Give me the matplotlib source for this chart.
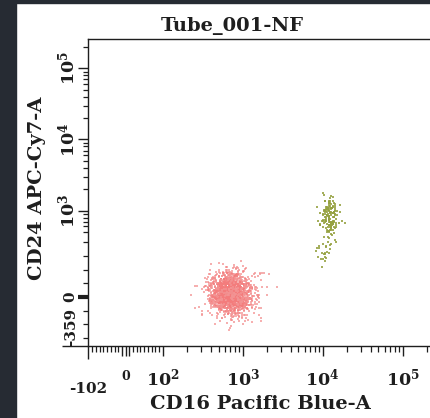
import numpy as np
import matplotlib
matplotlib.use("Agg")
import matplotlib.pyplot as plt
from matplotlib.scale import SymmetricalLogTransform
from matplotlib.patches import Rectangle

plt.rcParams['font.family'] = ['DejaVu Serif']
plt.rcParams['mathtext.fontset'] = 'dejavuserif'
plt.rcParams['mathtext.default'] = 'bf'

W, H = 430, 418                  # output size in px
ink = "#1e1e1e"

# axis ranges (biexponential display)
x_range = [-102, 262143]
y_range = [-359, 262143]
x_lin = (100, 0.416)             # linthresh, linscale
y_lin = (450, 0.778)

# populations: centre in data units, spread in display decades, event count
pop_x = [720, 720, 12500, 10500]
pop_y = [22, 22, 820, 320]
pop_sx = [0.13, 0.18, 0.06, 0.05]
pop_sy = [0.14, 0.19, 0.13, 0.11]
pop_n = [1500, 250, 150, 25]
pop_col = ["#f37c7c", "#f29494", "#95a140", "#95a140"]
pop_alpha = [0.6, 0.75, 0.85, 0.85]

x_major = [-102, -10, 0, 10, 100, 1000, 10000, 100000]
x_labels = ["-102", "0", "$10^{2}$", "$10^{3}$", "$10^{4}$", "$10^{5}$"]
x_label_at = [-102, 0, 100, 1000, 10000, 100000]
y_major = [-359, 0, 1000, 10000, 100000]
y_labels = ["-359", "0", "$10^{3}$", "$10^{4}$", "$10^{5}$"]

decade_minor = [m * 10 ** e for e in (2, 3, 4) for m in range(2, 10)] + [200000]
x_minor = [v for v in range(-90, 100, 10) if v not in (-10, 0, 10)] + decade_minor
y_minor = [-300, -200, -100, 100, 200, 300, 400, 500, 600, 700, 800, 900] + decade_minor[8:]

xt = SymmetricalLogTransform(10, *x_lin)
yt = SymmetricalLogTransform(10, *y_lin)

fig = plt.figure(figsize=(W / 100, H / 100), dpi=100, facecolor="white")
fig.patches.append(Rectangle((0, 0), 16 / W, 1, transform=fig.transFigure,
                             color="#262b33", zorder=10))
fig.patches.append(Rectangle((0, 1 - 3 / H), 1, 3 / H, transform=fig.transFigure,
                             color="#262b33", zorder=10))

ax_l, ax_r, ax_t, ax_b = 88, 436, 38.5, 346
ax = fig.add_axes([ax_l / W, 1 - ax_b / H, (ax_r - ax_l) / W, (ax_b - ax_t) / H])
ax.set_xscale("symlog", linthresh=x_lin[0], linscale=x_lin[1])
ax.set_yscale("symlog", linthresh=y_lin[0], linscale=y_lin[1])

# symlog units are decades * linthresh
rng = np.random.default_rng(7)
for cx, cy, sx, sy, n, c, a in zip(pop_x, pop_y, pop_sx, pop_sy, pop_n, pop_col, pop_alpha):
    tx = xt.transform(np.array([cx]))[0] + rng.normal(0, sx * x_lin[0], n)
    ty = yt.transform(np.array([cy]))[0] + rng.normal(0, sy * y_lin[0], n)
    ev_x = xt.inverted().transform(tx)
    ev_y = yt.inverted().transform(ty)
    ax.scatter(ev_x, ev_y, s=1.2, marker="s", c=c, linewidths=0, alpha=a)

ax.set_xlim(x_range)
ax.set_ylim(y_range)
ax.spines["right"].set_visible(False)
for s in ("left", "top", "bottom"):
    ax.spines[s].set_color(ink)
    ax.spines[s].set_linewidth(1.0)

ax.set_xticks(x_major, [""] * len(x_major))
ax.set_xticks(x_minor, minor=True)
ax.set_yticks(y_major, [""] * len(y_major))
ax.set_yticks(y_minor, minor=True)
ax.xaxis.set_minor_formatter(plt.NullFormatter())
ax.yaxis.set_minor_formatter(plt.NullFormatter())
ax.tick_params(which="major", direction="out", length=7, width=1.0, color=ink)
ax.tick_params(axis="x", which="minor", direction="out", length=4.5, width=0.9, color=ink)
ax.tick_params(axis="y", which="minor", direction="out", length=3.8, width=0.9, color=ink)

px = 100 / 72
ax.xaxis.get_major_ticks()[0].tick1line.set_markersize(13 / px)
ax.yaxis.get_major_ticks()[0].tick1line.set_markersize(26 / px)
ax.yaxis.get_major_ticks()[1].tick1line.set_markeredgewidth(3)

# tick labels
def fx(p):
    return (p - ax_l) / (ax_r - ax_l)

def fy(p):
    return (ax_b - p) / (ax_b - ax_t)

xtf = ax.get_xaxis_transform()
for v, lab in zip(x_label_at, x_labels):
    if lab == "-102":
        ax.text(v, fy(389), lab, transform=xtf, ha="center", va="center",
                fontsize=11, fontweight="bold", color=ink)
    elif lab == "0":
        ax.text(v, fy(377), lab, transform=xtf, ha="center", va="center",
                fontsize=9, fontweight="bold", color=ink)
    else:
        ax.text(v, fy(378), lab, transform=xtf, ha="center", va="center",
                fontsize=12.5, color=ink)

ytf = ax.get_yaxis_transform()
for v, lab in zip(y_major, y_labels):
    if lab == "-359":
        ax.text(fx(71), v, lab, transform=ytf, ha="center", va="bottom",
                rotation=90, fontsize=11, fontweight="bold", color=ink)
    elif lab == "0":
        ax.text(fx(70), v, lab, transform=ytf, ha="center", va="center",
                rotation=90, fontsize=11, fontweight="bold", color=ink)
    else:
        ax.text(fx(67), v, lab, transform=ytf, ha="center", va="center",
                rotation=90, fontsize=12.5, color=ink)

fig.text(232 / W, 1 - 26 / H, "Tube_001-NF", ha="center", va="center",
         fontsize=14, fontweight="bold", color=ink)
fig.text(260 / W, 1 - 404 / H, "CD16 Pacific Blue-A", ha="center", va="center",
         fontsize=14, fontweight="bold", color=ink)
fig.text(37 / W, 1 - 188 / H, "CD24 APC-Cy7-A", ha="center", va="center",
         rotation=90, fontsize=14, fontweight="bold", color=ink)

fig.savefig("out.png", dpi=100, facecolor="white")
